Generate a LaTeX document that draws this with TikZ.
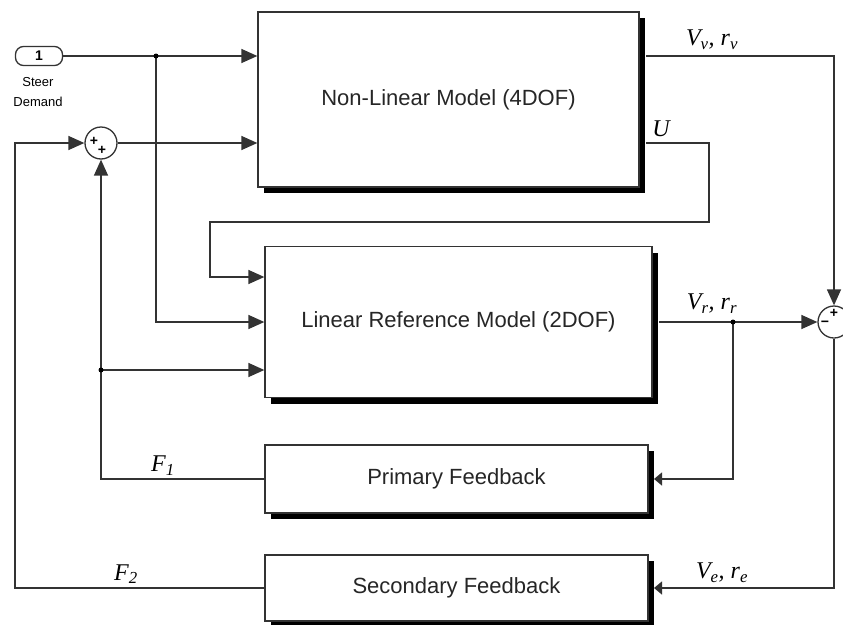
\documentclass[tikz,border=0pt]{standalone}
\usepackage{fontspec}
\setmainfont{Liberation Sans}
\newfontfamily\lserif{Liberation Serif}
\usetikzlibrary{arrows.meta,shadows}
\begin{document}
\begin{tikzpicture}[x=1pt,y=-1pt,
  wire/.style={draw=black!80, line width=1.4pt},
  arr/.style={wire, -{Triangle[length=16pt,width=14pt]}},
  sarr/.style={wire, -{Triangle[length=8pt,width=13pt]}},
  blk/.style={draw=black!80, line width=1.3pt, fill=white, inner sep=0pt,
    text=black!85, font=\fontsize{22}{24}\selectfont,
    drop shadow={fill=black, opacity=1, shadow xshift=6pt, shadow yshift=-6pt}},
  sumblk/.style={circle, draw=black!80, line width=1.3pt, fill=white, minimum size=32pt, inner sep=0pt},
  sgn/.style={inner sep=0pt, font=\fontsize{14}{14}\selectfont\bfseries},
  lab/.style={inner sep=0pt, font=\lserif\itshape\fontsize{24}{26}\selectfont},
  port/.style={draw=black!80, line width=1.3pt, rounded corners=8pt, minimum width=47pt, minimum height=19pt, inner sep=0pt, font=\fontsize{14}{14}\selectfont\bfseries},
  dot/.style={circle, fill=black, inner sep=0pt, minimum size=5pt}]
\useasboundingbox (0,0) rectangle (843,624);
% blocks
\node[blk, minimum width=381pt, minimum height=175pt] (b1) at (448.5,99.5) {Non-Linear Model (4DOF)};
\node[blk, minimum width=387pt, minimum height=151pt] (b2) at (458.5,322) {Linear Reference Model (2DOF)};
\node[blk, minimum width=383pt, minimum height=68pt] (pf) at (456.5,479) {Primary Feedback};
\node[blk, minimum width=383pt, minimum height=66pt] (sf) at (456.5,588) {Secondary Feedback};
\node[port] (in) at (39,56) {1};
\node[align=center, inner sep=0pt, font=\fontsize{13}{20}\selectfont] (sd) at (38,92) {Steer\\Demand};
\node[sumblk] (s1) at (101,143) {};
\node[sumblk] (s2) at (834,322) {};
\node[sgn] (s1a) at (94,141) {+};
\node[sgn] (s1b) at (102,150) {+};
\node[sgn] (s2a) at (834,313) {+};
\node[sgn] (s2b) at (825,324) {\textminus};
% coordinates
\coordinate (j1) at (156,56);
\coordinate (o1) at (646,56);
\coordinate (o2) at (646,143);
\coordinate (u1) at (709,143);
\coordinate (u2) at (709,222);
\coordinate (u3) at (210,222);
\coordinate (u4) at (210,277);
\coordinate (o3) at (659,322);
\coordinate (j2) at (733,322);
\coordinate (pfin) at (654,479);
\coordinate (sfin) at (654,588);
\coordinate (j3) at (101,370);
\coordinate (f2b) at (15,143);
% wires
\draw[arr] (in.east) -- (b1.west |- in.east);
\draw[arr] (j1) |- (b2.west);
\draw[arr] (s1.east) -- (b1.west |- s1.east);
\draw[arr] (o1) -| (s2.north);
\draw[arr] (o2) -- (u1) -- (u2) -- (u3) -- (u4) -- (b2.west |- u4);
\draw[arr] (o3) -- (s2.west);
\draw[sarr] (j2) |- (pfin);
\draw[arr] (pf.west) -| (s1.south);
\draw[arr] (j3) -- (b2.west |- j3);
\draw[sarr] (s2.south) |- (sfin);
\draw[arr] (sf.west) -| (f2b) -- (s1.west);
\node[dot] at (j1) {};
\node[dot] at (j2) {};
\node[dot] at (j3) {};
% labels
\node[lab] (lv) at (712,40) {V\textsubscript{v}, r\textsubscript{v}};
\node[lab] (lu) at (661,129) {U};
\node[lab] (lr) at (712,304) {V\textsubscript{r}, r\textsubscript{r}};
\node[lab] (le) at (722,573) {V\textsubscript{e}, r\textsubscript{e}};
\node[lab] (lf1) at (163,466) {F\textsubscript{1}};
\node[lab] (lf2) at (126,574) {F\textsubscript{2}};
\end{tikzpicture}
\end{document}
